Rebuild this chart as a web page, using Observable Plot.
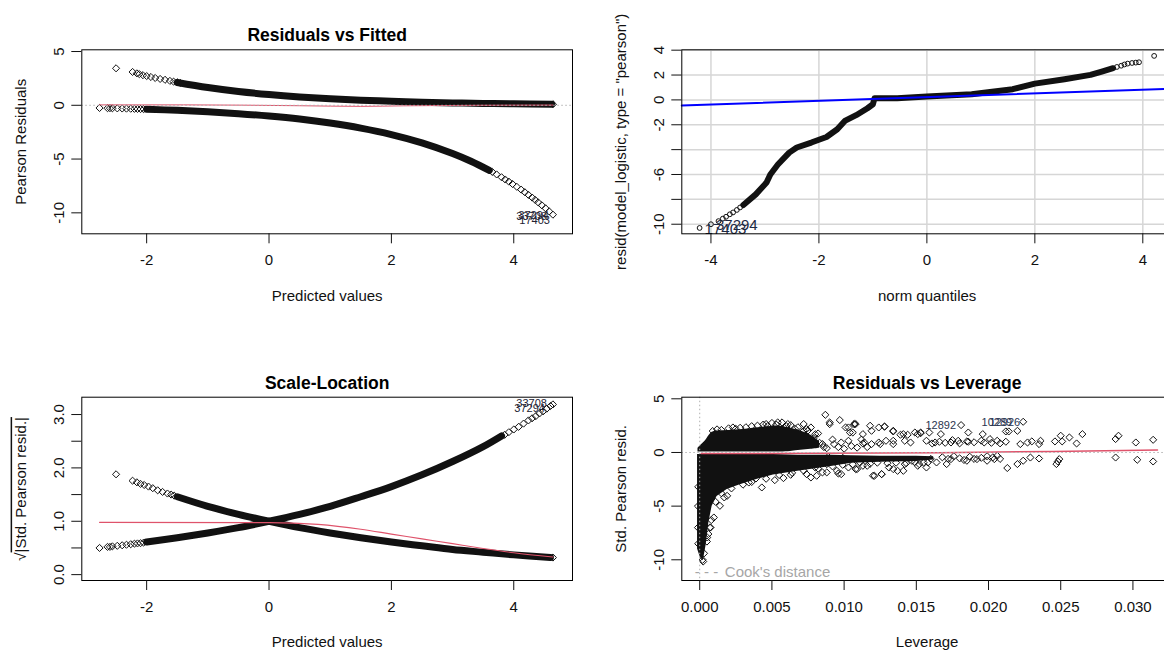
<!DOCTYPE html>
<html><head><meta charset="utf-8">
<script src="https://cdn.jsdelivr.net/npm/d3@7"></script>
<script src="https://cdn.jsdelivr.net/npm/@observablehq/plot@0.6"></script>
<style>
html,body{margin:0;padding:0;background:#fff;overflow:hidden;width:1164px;height:651px;}
#root{position:relative;width:1164px;height:651px;overflow:hidden;}
#root svg{position:absolute;}
</style></head>
<body><div id="root"></div>
<script>
// ================= DATA =================
// Panel 1 – Residuals vs Fitted  [fitted, pearson residual]
const rvfXTicks = [-2, 0, 2, 4];
const rvfYTicks = [5, 0, -5, -10];
const rvfUpperBand = [[-1.5,2.12],[-1.0,1.65],[-0.5,1.28],[0,1.0],[0.5,0.78],[1,0.61],[1.5,0.47],[2,0.38],[2.5,0.29],[3,0.22],[3.5,0.17],[4,0.14],[4.62,0.1]];
const rvfUpperDots = [[-2.5,3.44],[-2.23,3.1],[-2.16,2.97],[-2.12,2.9],[-2.06,2.8],[-2.0,2.72],[-1.93,2.63],[-1.86,2.54],[-1.78,2.45],[-1.7,2.37],[-1.62,2.27],[-1.56,2.2],[-1.5,2.14],[-1.45,2.08],[4.64,0.1]];
const rvfLowerBand = [[-2.0,-0.37],[-1.5,-0.47],[-1,-0.61],[-0.5,-0.78],[0,-1.0],[0.5,-1.28],[1,-1.65],[1.5,-2.12],[2,-2.72],[2.5,-3.49],[3,-4.48],[3.3,-5.2],[3.6,-6.05]];
const rvfLowerDots = [[-2.77,-0.25],[-2.64,-0.27],[-2.6,-0.27],[-2.56,-0.28],[-2.48,-0.29],[-2.4,-0.3],[-2.33,-0.31],[-2.26,-0.32],[-2.2,-0.33],[-2.15,-0.34],[-2.1,-0.35],[-2.05,-0.36],[3.65,-6.2],[3.72,-6.43],[3.8,-6.69],[3.86,-6.9],[3.92,-7.1],[3.98,-7.32],[4.05,-7.58],[4.12,-7.84],[4.18,-8.08],[4.24,-8.33],[4.3,-8.58],[4.35,-8.8],[4.4,-9.03],[4.46,-9.3],[4.52,-9.58],[4.58,-9.87],[4.64,-10.17]];
const rvfSmooth = [[-2.77,0.04],[-1.4,0.04],[0.5,-0.04],[1.5,-0.1],[2.2,-0.05],[3.4,0.0],[4.64,0.02]];
const rvfIds = [{id:"37294",x:4.64,y:-10.17},{id:"33708",x:4.64,y:-10.17},{id:"17403",x:4.64,y:-10.17}];

// Panel 2 – Normal QQ  [norm quantile, residual]
const qqXTicks = [-4, -2, 0, 2, 4];
const qqYTicks = [4, 2, 0, -2, -4, -6, -8, -10];
const qqYTickLabels = ["4", "2", "0", "-2", "", "-6", "", "-10"];
const qqBand = [[-3.4,-8.45],[-3.17,-7.6],[-2.97,-6.65],[-2.9,-6.0],[-2.76,-5.2],[-2.55,-4.24],[-2.41,-3.83],[-2.14,-3.43],[-1.86,-2.98],[-1.66,-2.36],[-1.52,-1.69],[-1.31,-1.23],[-1.1,-0.67],[-1.0,-0.35],[-0.97,0.13],[-0.55,0.13],[0,0.27],[0.83,0.46],[1.17,0.64],[1.59,0.86],[2.0,1.31],[2.55,1.66],[3.03,2.01],[3.24,2.28],[3.45,2.55]];
const qqDots = [[-4.21,-10.3],[-4.0,-10.0],[-3.86,-9.75],[-3.78,-9.55],[-3.72,-9.4],[-3.65,-9.2],[-3.59,-9.05],[-3.52,-8.85],[-3.46,-8.65],[3.52,2.65],[3.6,2.75],[3.66,2.85],[3.72,2.92],[3.8,2.97],[3.87,3.0],[3.93,3.03],[4.21,3.54]];
const qqLineEnds = [[-4.54,-0.46],[4.55,0.9]];
const qqIds = [{id:"17403",x:-4.21,y:-10.3},{id:"37294",x:-4.0,y:-10.0}];

// Panel 3 – Scale-Location  [fitted, sqrt|std resid|]
const slXTicks = [-2, 0, 2, 4];
const slYTicks = [0, 0.5, 1, 1.5, 2, 2.5, 3];
const slYTickLabels = ["0.0", "", "1.0", "", "2.0", "", "3.0"];
const slDecBand = [[-1.5,1.46],[-1,1.28],[-0.5,1.13],[0,1.0],[0.5,0.88],[1,0.78],[1.5,0.69],[2,0.61],[2.5,0.54],[3,0.47],[3.5,0.42],[4,0.37],[4.6,0.32]];
const slDecDots = [[-2.5,1.88],[-2.23,1.76],[-2.16,1.73],[-2.1,1.70],[-2.04,1.68],[-1.97,1.65],[-1.9,1.62],[-1.82,1.58],[-1.74,1.55],[-1.66,1.52],[-1.6,1.5],[-1.55,1.48],[4.64,0.32]];
const slIncBand = [[-2.0,0.61],[-1.5,0.69],[-1,0.78],[-0.5,0.88],[0,1.0],[0.5,1.13],[1,1.28],[1.5,1.46],[2,1.65],[2.5,1.87],[3,2.12],[3.5,2.40],[3.8,2.6]];
const slIncDots = [[-2.77,0.5],[-2.64,0.52],[-2.6,0.52],[-2.56,0.53],[-2.48,0.54],[-2.4,0.55],[-2.33,0.56],[-2.26,0.57],[-2.2,0.58],[-2.15,0.585],[-2.1,0.59],[-2.05,0.6],[3.85,2.62],[3.92,2.67],[4.0,2.72],[4.08,2.77],[4.16,2.83],[4.24,2.89],[4.3,2.93],[4.36,2.97],[4.42,3.02],[4.48,3.06],[4.54,3.11],[4.6,3.16],[4.64,3.19]];
const slSmooth = [[-2.77,0.98],[0,0.975],[0.8,0.94],[1.5,0.85],[2,0.76],[2.5,0.67],[3,0.58],[3.5,0.49],[4,0.41],[4.64,0.33]];
const slIds = [{id:"33708",x:4.64,y:3.19},{id:"37294",x:4.64,y:3.19}];

// Panel 4 – Residuals vs Leverage  [leverage, std pearson resid]
const rvlXTicks = [0, 0.005, 0.01, 0.015, 0.02, 0.025, 0.03];
const rvlYTicks = [5, 0, -5, -10];
// dense masses of overplotted points: [leverage, low, high]
const rvlUpperMass = [[-0.00012,0.05,0.4],[0.0001,0.05,0.7],[0.0004,0.05,1.1],[0.00075,0.05,1.75],[0.001,0.05,1.95],[0.002,0.05,2.05],[0.003,0.05,2.15],[0.0044,0.05,2.35],[0.0056,0.05,2.45],[0.0063,0.1,2.25],[0.007,0.2,2.0],[0.0077,0.3,1.6],[0.0083,0.4,1.0]];
const rvlLowerMass = [[-0.00015,-9.0,-0.2],[0.00005,-9.8,-0.2],[0.00025,-10.1,-0.2],[0.00045,-8.6,-0.2],[0.00063,-6.6,-0.2],[0.00086,-5.0,-0.2],[0.0012,-4.1,-0.2],[0.0019,-3.45,-0.2],[0.0028,-3.0,-0.2],[0.004,-2.5,-0.2],[0.0051,-2.1,-0.2],[0.0068,-1.75,-0.25],[0.0091,-1.3,-0.25],[0.0105,-1.0,-0.3],[0.0125,-0.9,-0.35],[0.015,-0.85,-0.35],[0.0162,-0.7,-0.4]];
const rvlPoints = [
 [0.0288,1.25],[0.0290,1.56],[0.0302,0.93],[0.0314,1.18],[0.0288,-0.47],[0.0303,-0.68],[0.0314,-0.84],
 [0.0265,1.71],[0.0261,0.84],[0.0256,1.4],[0.0250,1.56],[0.0246,1.03],[0.0251,1.03],
 [0.0248,-0.84],[0.0249,-0.62],[0.0247,-1.08],
 [0.0235,0.78],[0.0236,1.09],[0.0230,1.03],[0.0227,0.93],[0.0222,0.78],
 [0.0235,-0.56],[0.0229,-0.47],[0.0224,-0.77],[0.0220,-1.08],[0.0213,-1.45],
 [0.0224,2.86],[0.0220,2.02],[0.0214,1.96],[0.0212,1.96],
 [0.0196,1.71],[0.0206,1.09],[0.0201,1.25],[0.0197,0.93],[0.0185,1.03],
 [0.0206,-0.31],[0.0204,-0.62],[0.0199,-0.77],[0.0192,-0.62],[0.0185,-0.77],[0.0174,-0.62],[0.0171,-1.08],[0.0164,-0.93],
 [0.0181,2.55],[0.0186,1.86],[0.0179,1.09],[0.0174,0.93],[0.0167,1.71],[0.0163,0.93],[0.0159,1.86],
 [0.0107,2.65],[0.0118,2.49],[0.0128,2.4],[0.0134,2.02],[0.0141,1.71],[0.0151,1.71],[0.0153,1.86],[0.0146,0.93],[0.0134,1.09],[0.0125,0.78],[0.0114,0.93],
 [0.0121,-2.17],[0.0126,-2.02],[0.0134,-1.55],[0.0141,-1.71],[0.0151,-1.24],[0.0158,-0.93],[0.0109,-1.55],[0.0116,-1.24],
 [0.0166,1.0],[0.0170,0.9],[0.0175,1.15],[0.0180,0.85],[0.0186,1.0],[0.0190,0.95],[0.0195,1.1],[0.0202,0.9],[0.0208,0.85],[0.0212,1.0],
 [0.0168,-0.45],[0.0172,-0.6],[0.0176,-0.35],[0.018,-0.55],[0.0183,-0.7],[0.0187,-0.4],[0.019,-0.6],[0.0195,-0.5],[0.0199,-0.35],[0.0203,-0.45],[0.0208,-0.6],
 [0.0087,3.51],[0.0090,2.8],[0.0097,3.02],[0.0103,2.33],[0.0108,2.65],[0.0106,1.86],[0.0072,2.65],[0.0074,2.18],[0.0054,2.8],[0.0061,2.65],[0.0046,2.65],[0.0023,2.33],
 [0.0043,-3.26],[0.0052,-2.58],[0.0039,-2.42],[0.0034,-2.8],[0.0019,-4.04],[0.0014,-4.97],[0.00098,-6.06],[0.00075,-6.99],[0.00052,-7.92],[0.0017,-4.19],
 [0.0081,-2.17],[0.0088,-1.86],[0.0096,-1.96],[0.0074,-2.02],[0.0063,-2.08],[0.0058,-2.39],
 [0.0090,2.64],[0.0101,2.33],[0.0107,2.64],[0.0104,1.86],[0.0113,1.71],[0.0119,2.02],[0.0124,2.33],[0.0128,2.42],
 [0.0134,1.96],[0.0139,1.65],[0.0142,1.09],[0.0144,1.65],[0.0149,1.86],[0.0153,1.80],[0.0157,1.09],[0.0161,0.84],
 [0.0072,2.02],[0.0077,2.33],[0.0082,1.77],[0.0070,1.40],[0.0062,1.55],[0.0077,1.09],[0.0085,0.78],[0.0093,0.78],
 [0.0098,0.93],[0.0103,1.09],[0.0113,0.84],[0.0119,0.78],[0.0124,0.93],[0.0129,1.09],[0.0134,0.78],
 [0.0072,-1.09],[0.0080,-1.40],[0.0088,-1.09],[0.0095,-1.71],[0.0103,-1.40],[0.0108,-1.55],[0.0113,-1.24],[0.0120,-2.17],[0.0126,-2.02],[0.0131,-1.40],[0.0137,-1.71],[0.0142,-1.09],[0.0147,-0.78],[0.0152,-1.09],[0.0157,-1.40],[0.0077,-2.33],[0.0085,-1.86],[0.0098,-2.02],
 [0.0009,2.0],[0.0015,2.1],[0.002,2.25],[0.0028,2.3],[0.0036,2.45],[0.0044,2.6],[0.005,2.75],[0.0057,2.8],[0.0063,2.55],[0.0068,2.35],[0.0075,2.05],[0.008,1.7],
 [0.0012,2.15],[0.0025,2.2],[0.0032,2.35],[0.004,2.5],[0.0047,2.45],[0.0053,2.6],[0.006,2.45],[0.0066,2.2],[0.0071,1.9],[0.0079,1.35],[0.0083,0.9],[0.0086,0.5],
 [0.0005,-8.3],[0.0006,-7.6],[0.0007,-7.0],[0.0008,-6.3],[0.0003,-9.4],[0.0002,-10.0],[0.00024,-10.16],[-0.0001,-8.5],[-0.00012,-7.0],[-0.00012,-5.0],[-0.0001,-3.2],
 [0.0011,-4.6],[0.0015,-3.8],[0.0022,-3.35],[0.003,-3.0],[0.0036,-2.75],[0.0046,-2.45],[0.0055,-2.1],[0.0064,-1.9],[0.0072,-1.7],[0.0082,-1.5],[0.0092,-1.3],[0.0099,-1.15],
 [0.0088,0.4],[0.0092,1.2],[0.0096,0.5],[0.01,0.35],[0.0105,0.6],[0.0109,0.45],[0.0112,1.2],[0.0116,0.5],[0.0089,-0.4],[0.0093,-0.6],[0.0099,-0.5],
 [0.0106,-1.1],[0.0111,-0.95],[0.0118,-1.05],[0.0123,-0.95],[0.013,-1.0],[0.0136,-0.95],[0.0143,-1.0],[0.0149,-0.9],[0.0155,-0.95],[0.016,-0.6]
];
const rvlSmooth = [[0.0001,-0.1],[0.008,-0.08],[0.0165,-0.02],[0.0245,0.1],[0.0317,0.22]];
const rvlIds = [{id:"12892",x:0.0181,y:2.55},{id:"12926",x:0.0224,y:2.86},{id:"10289",x:0.0224,y:2.86}];

// ================= DRAWING =================
const FONT = '"Liberation Sans", Arial, Helvetica, sans-serif';
const INK = "#111";
const RED = "#DF536B";
const ZERO = [0];
const px = d => d[0], py = d => d[1];
const diamond = {x: px, y: py, symbol: "diamond2", r: 3.2, stroke: INK, strokeWidth: 1, fill: "none"};
const band = (w) => ({x: px, y: py, stroke: INK, strokeWidth: w, strokeLinecap: "round", strokeLinejoin: "round", curve: "catmull-rom"});
const root = document.getElementById("root");

function panel({left, top, width, height, mL, mT, mR, mB, xDomain, yDomain, xTicks, yTicks, xFmt, yFmt, title, xLabel, yLabel, marks}) {
  const all = [
    ...marks,
    Plot.frame({stroke: "#000", strokeWidth: 1}),
    Plot.axisX(xTicks, {tickSize: 10, tickPadding: 11, tickFormat: xFmt, fontSize: 15, label: null, fill: INK}),
    Plot.axisY(yTicks, {tickSize: 10, tickPadding: 8, tickRotate: -90, tickFormat: yFmt, fontSize: 15, label: null, fill: INK}),
    Plot.text([xLabel], {text: d => d, frameAnchor: "bottom", textAnchor: "middle", lineAnchor: "middle", dy: 62, fontSize: 15, fill: INK}),
    Plot.text([yLabel], {text: d => d, frameAnchor: "left", textAnchor: "middle", lineAnchor: "middle", dx: -61, rotate: -90, fontSize: 15, fill: INK})
  ];
  if (title) all.push(Plot.text([title], {text: d => d, frameAnchor: "top", textAnchor: "middle", lineAnchor: "middle", dy: -14, fontSize: 17.5, fontWeight: "bold", fill: "#000"}));
  const svg = Plot.plot({
    width, height, marginLeft: mL, marginTop: mT, marginRight: mR, marginBottom: mB,
    x: {domain: xDomain}, y: {domain: yDomain},
    style: {fontFamily: FONT, fontSize: "15px", color: INK, background: "transparent"},
    marks: all
  });
  svg.style.left = left + "px";
  svg.style.top = top + "px";
  root.appendChild(svg);
  return svg;
}

// Panel 1
panel({
  left: 0, top: 0, width: 582, height: 325, mL: 81.3, mT: 49.3, mR: 10, mB: 91.7,
  xDomain: [-3.06, 4.96], yDomain: [-11.95, 5.16],
  xTicks: rvfXTicks, yTicks: rvfYTicks, xFmt: d => String(d), yFmt: d => String(d),
  title: "Residuals vs Fitted", xLabel: "Predicted values", yLabel: "Pearson Residuals",
  marks: [
    Plot.line(rvfUpperBand, band(7)),
    Plot.line(rvfLowerBand, band(7)),
    Plot.dot(rvfUpperDots, diamond),
    Plot.dot(rvfLowerDots, diamond),
    Plot.line(rvfSmooth, {x: px, y: py, stroke: RED, strokeWidth: 1, curve: "monotone-x"}),
    Plot.ruleY(ZERO, {stroke: "#b0b0b0", strokeDasharray: "1.5,2.5"}),
    ...rvfIds.map((d, i) => Plot.text([d], {x: "x", y: "y", text: "id", textAnchor: "end", dx: [-4, -6, -3][i], dy: [1, 2, 6][i], fontSize: 11, fill: "#223"}))
  ]
});

// Panel 2
panel({
  left: 582, top: 0, width: 600, height: 325, mL: 99.3, mT: 49.3, mR: 10, mB: 91.7,
  xDomain: [-4.54, 4.55], yDomain: [-10.77, 4.03],
  xTicks: qqXTicks, yTicks: qqYTicks, xFmt: d => String(d), yFmt: d => qqYTickLabels[qqYTicks.indexOf(d)],
  title: null, xLabel: "norm quantiles", yLabel: 'resid(model_logistic, type = "pearson")',
  marks: [
    Plot.gridX(qqXTicks, {stroke: "#d6d6d6", strokeOpacity: 1, strokeWidth: 1.5}),
    Plot.gridY(qqYTicks, {stroke: "#d6d6d6", strokeOpacity: 1, strokeWidth: 1.5}),
    Plot.line(qqBand, {x: px, y: py, stroke: INK, strokeWidth: 6, strokeLinecap: "round", strokeLinejoin: "round"}),
    Plot.dot(qqDots, {x: px, y: py, r: 2.4, stroke: INK, strokeWidth: 1, fill: "none"}),
    Plot.line(qqLineEnds, {x: px, y: py, stroke: "#0000ff", strokeWidth: 2}),
    ...qqIds.map((d, i) => Plot.text([d], {x: "x", y: "y", text: "id", textAnchor: "start", dx: 5, dy: [1, 1][i], fontSize: 15, fill: "#1d2a44"}))
  ]
});

// Panel 3
const sl = panel({
  left: 0, top: 325, width: 582, height: 326, mL: 81.3, mT: 71.7, mR: 10, mB: 71,
  xDomain: [-3.06, 4.96], yDomain: [-0.11, 3.325],
  xTicks: slXTicks, yTicks: slYTicks, xFmt: d => String(d), yFmt: d => slYTickLabels[slYTicks.indexOf(d)],
  title: "Scale-Location", xLabel: "Predicted values", yLabel: "√|Std. Pearson resid.|",
  marks: [
    Plot.line(slDecBand, band(7)),
    Plot.line(slIncBand, band(7)),
    Plot.dot(slDecDots, diamond),
    Plot.dot(slIncDots, diamond),
    Plot.line(slSmooth, {x: px, y: py, stroke: RED, strokeWidth: 1.2, curve: "monotone-x"}),
    ...slIds.map((d, i) => Plot.text([d], {x: "x", y: "y", text: "id", textAnchor: "end", dx: [-6, -8][i], dy: [-1, 4][i], fontSize: 11, fill: "#223"}))
  ]
});
// overline over the radicand, as in R's plotmath sqrt()
sl.querySelectorAll("text").forEach(t => {
  if (t.textContent === "√|Std. Pearson resid.|") {
    t.textContent = "";
    const a = document.createElementNS("http://www.w3.org/2000/svg", "tspan");
    a.textContent = "√";
    const b = document.createElementNS("http://www.w3.org/2000/svg", "tspan");
    b.textContent = "|Std. Pearson resid.|";
    b.setAttribute("text-decoration", "overline");
    b.style.textDecoration = "overline";
    t.appendChild(a); t.appendChild(b);
  }
});

// Panel 4
panel({
  left: 582, top: 325, width: 600, height: 326, mL: 99.3, mT: 71.7, mR: 10, mB: 71,
  xDomain: [-0.00124, 0.03274], yDomain: [-11.93, 5.15],
  xTicks: rvlXTicks, yTicks: rvlYTicks, xFmt: d => d.toFixed(3), yFmt: d => String(d),
  title: "Residuals vs Leverage", xLabel: "Leverage", yLabel: "Std. Pearson resid.",
  marks: [
    Plot.areaY(rvlUpperMass, {x: d => d[0], y1: d => d[1], y2: d => d[2], fill: INK, curve: "catmull-rom"}),
    Plot.areaY(rvlLowerMass, {x: d => d[0], y1: d => d[1], y2: d => d[2], fill: INK, curve: "linear"}),
    Plot.dot(rvlPoints, diamond),
    Plot.line(rvlSmooth, {x: px, y: py, stroke: RED, strokeWidth: 1.5, curve: "monotone-x"}),
    Plot.ruleY(ZERO, {stroke: "#b0b0b0", strokeDasharray: "1.5,2.5"}),
    Plot.ruleX(ZERO, {stroke: "#b0b0b0", strokeDasharray: "1.5,2.5"}),
    ...rvlIds.map((d, i) => Plot.text([d], {x: "x", y: "y", text: "id", textAnchor: "end", dx: [-5, -3, -11][i], dy: [0, 1, 1][i], fontSize: 11, fill: "#2a3450"})),
    Plot.text(["- - -"], {text: d => d, frameAnchor: "bottom-left", dx: 13, dy: -8.5, textAnchor: "start", lineAnchor: "middle", fontSize: 15, fill: "#a6a6a6"}),
    Plot.text(["Cook's distance"], {text: d => d, frameAnchor: "bottom-left", dx: 43, dy: -8.3, textAnchor: "start", lineAnchor: "middle", fontSize: 15, fill: "#a6a6a6"})
  ]
});
</script></body></html>
